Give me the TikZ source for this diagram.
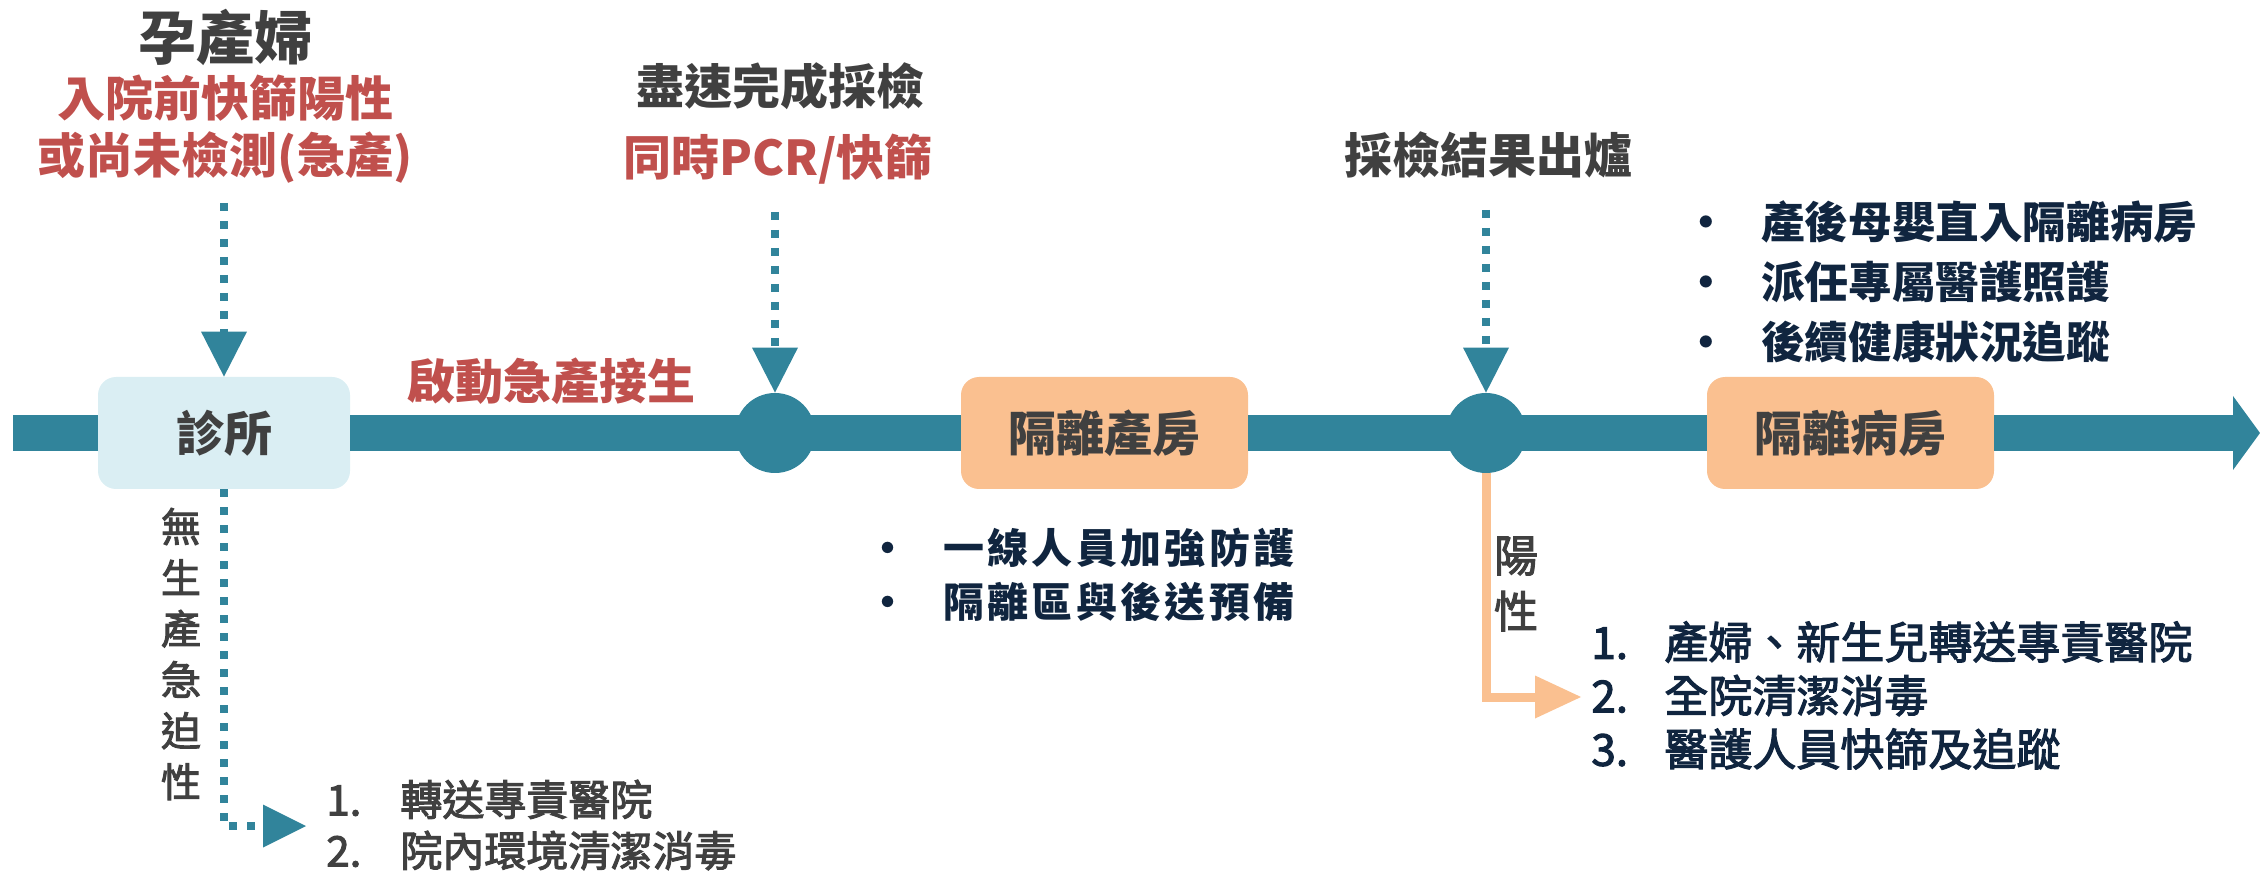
\documentclass[tikz,border=0pt]{standalone}
\usepackage{fontspec}
\setmainfont{Noto Sans CJK TC}
\newfontfamily\spacedfont{Noto Sans CJK TC}[LetterSpace=8]
\newfontfamily\medfont{Noto Sans CJK TC}[FakeBold=2.5]
\usetikzlibrary{arrows.meta}
\definecolor{cteal}{HTML}{31849B}
\definecolor{cred}{HTML}{C0504D}
\definecolor{cgray}{HTML}{404040}
\definecolor{cnavy}{HTML}{10253F}
\definecolor{cpeach}{HTML}{FAC090}
\definecolor{clight}{HTML}{DAEEF3}
\newcommand{\fsz}[2]{\fontsize{#1}{#2}\selectfont}
\newcommand{\bulmark}{\makebox[30pt][l]{\makebox[5pt]{•}}}
\begin{document}
\begin{tikzpicture}[x=0.5pt,y=-0.5pt,
  bar/.style={draw=cteal,line width=18pt},
  stagebox/.style={rounded corners=9pt,inner sep=0pt,minimum height=56pt,text=cgray,font=\fsz{24pt}{28pt}\bfseries},
  hub/.style={circle,fill=cteal,minimum size=40pt,inner sep=0pt},
  dotarrow/.style={draw=cteal,line width=4pt,dash pattern=on 4pt off 5pt,-{Triangle[length=22.5pt,width=23pt,line width=0pt]}},
  posarrow/.style={draw=cpeach,line width=4.5pt,-{Triangle[length=23pt,width=21.5pt,line width=0pt]}},
  txt/.style={inner sep=0pt},
  head/.style={txt,font=\fsz{24pt}{28pt}\bfseries},
]
\useasboundingbox (0,0) rectangle (2260,871);

% stages on the time line
\node[stagebox,fill=clight,minimum width=126pt] (clinic) at (224,433) {診所};
\node[hub] (c1) at (775,433) {};
\node[stagebox,fill=cpeach,minimum width=143.5pt] (room1) at (1104.5,433) {隔離產房};
\node[hub] (c2) at (1486,433) {};
\node[stagebox,fill=cpeach,minimum width=143.5pt] (room2) at (1850.5,433) {隔離病房};
\coordinate (bs) at (13,433);
\coordinate (be) at (2260,433);

% main bar
\draw[bar] (bs) -- (clinic.west);
\draw[bar] (clinic.east) -- (c1.center) -- (room1.west);
\draw[bar] (room1.east) -- (c2.center) -- (room2.west);
\draw[bar,-{Triangle[length=13.5pt,width=37pt,line width=0pt]}] (room2.east) -- (be);

% dotted arrows
\coordinate (a1) at (224,203);
\coordinate (a2) at (775,212);
\coordinate (a3) at (1486,210);
\coordinate (t4) at (306,826);
\coordinate (t5) at (1581,697);
\draw[dotarrow] (a1) -- (clinic.north);
\draw[dotarrow] (a2) -- (c1.north);
\draw[dotarrow] (a3) -- (c2.north);
\draw[dotarrow,-{Triangle[length=21.5pt,width=21.5pt,line width=0pt]}] (clinic.south) |- (t4);
\draw[posarrow] (c2.south) |- (t5);

% headings
\node[txt,text=cgray,font=\fsz{29pt}{32pt}\bfseries] (preg) at (225,37) {孕產婦};
\node[head,text=cred] (r1) at (225,98) {入院前快篩陽性};
\node[head,text=cred] (r2) at (225,158) {或尚未檢測(急產)};
\node[head,text=cgray] (s1) at (780,86) {盡速完成採檢};
\node[head,text=cred] (s2) at (778,159) {同時PCR/快篩};
\node[head,text=cgray] (s3) at (1488,155) {採檢結果出爐};
\node[head,text=cred] (go) at (551,381) {啟動急產接生};

% vertical labels
\node[txt,text=cgray,align=center,font=\medfont\fsz{20pt}{25.5pt}] (nourg) at (181,654) {無\\生\\產\\急\\迫\\性};
\node[txt,text=cgray,align=center,font=\medfont\fsz{22pt}{28pt}] (pos) at (1516,584) {陽\\性};

% lists
\node[txt,text=cgray,anchor=west,align=left,font=\medfont\fsz{21pt}{25.5pt}] (list1) at (326,825)
  {\makebox[37pt][l]{1.}轉送專責醫院\\\makebox[37pt][l]{2.}院內環境清潔消毒};
\node[txt,text=cnavy,anchor=west,align=left,font=\medfont\fsz{22pt}{26.75pt}] (list2) at (1591,695.5)
  {\makebox[36.5pt][l]{1.}產婦、新生兒轉送專責醫院\\\makebox[36.5pt][l]{2.}全院清潔消毒\\\makebox[36.5pt][l]{3.}醫護人員快篩及追蹤};
\node[txt,text=cnavy,anchor=west,align=left,font=\fsz{21.8pt}{30pt}\bfseries] (bul2) at (1701,282)
  {\bulmark 產後母嬰直入隔離病房\\\bulmark 派任專屬醫護照護\\\bulmark 後續健康狀況追蹤};
\node[txt,text=cnavy,anchor=west,align=left,font=\spacedfont\fsz{20.5pt}{27pt}\bfseries] (bul1) at (883,575)
  {\bulmark 一線人員加強防護\\\bulmark 隔離區與後送預備};
\end{tikzpicture}
\end{document}
